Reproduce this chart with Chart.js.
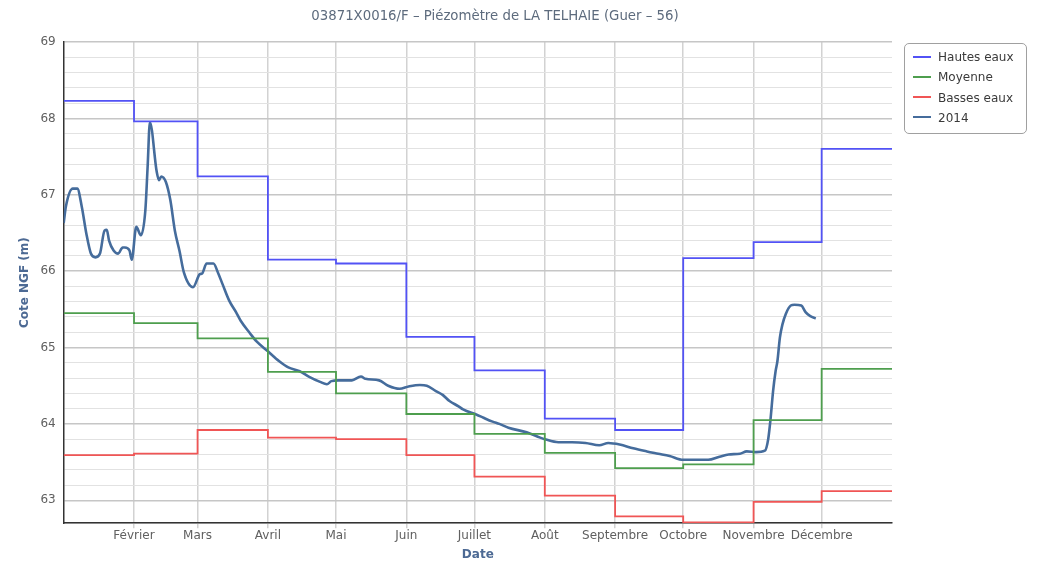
<!DOCTYPE html>
<html>
<head>
<meta charset="utf-8">
<script src="https://cdn.jsdelivr.net/npm/chart.js@4.4.1/dist/chart.umd.min.js"></script>
<style>
  html, body { margin: 0; padding: 0; background: #fff; }
  #wrap { position: relative; width: 1039px; height: 566px; font-family: "DejaVu Sans", sans-serif; }
  #chart { position: absolute; left: 0; top: 0; }
  #title { position: absolute; left: 0; width: 990px; top: 8px; text-align: center; font-size: 13.3px; color: #5d6b7d; }
  #legend { position: absolute; left: 904px; top: 43px; width: 121px; height: 89px; border: 1px solid #a0a0a0; border-radius: 5px; box-sizing: content-box; }
  #legend .item { position: absolute; left: 8px; font-size: 12px; color: #3a3a3a; white-space: nowrap; }
  #legend .item span { display: inline-block; width: 18px; height: 2px; vertical-align: middle; margin-right: 7px; position: relative; top: -1px; }
</style>
</head>
<body>
<div id="wrap">
  <canvas id="chart" width="1039" height="566"></canvas>
  <div id="title">03871X0016/F – Piézomètre de LA TELHAIE (Guer – 56)</div>
  <div id="legend"></div>
</div>
<script>
// ---------- Data (day of year, 0 = 1 Jan) ----------
const MONTH_DAYS = [0,31,59,90,120,151,181,212,243,273,304,334,365];
const TICK_DAYS = [31,59,90,120,151,181,212,243,273,304,334];
const TICK_LABELS = ['Février','Mars','Avril','Mai','Juin','Juillet','Août','Septembre','Octobre','Novembre','Décembre'];

// monthly references (Jan..Dec)
const HAUTES_EAUX = [68.23,67.96,67.24,66.15,66.10,65.14,64.70,64.07,63.92,66.17,66.38,67.60];
const MOYENNE     = [65.45,65.32,65.12,64.68,64.40,64.13,63.87,63.62,63.42,63.47,64.05,64.72];
const BASSES_EAUX = [63.59,63.61,63.92,63.82,63.80,63.59,63.31,63.06,62.79,62.71,62.98,63.12];

// 2014 levels
const DAYS_2014 = [0,1,4,6,8,10,12,14,16,18,19,20,22,24,26,27,29,30,32,34,36,37,38,41,42,43,45,47,49,51,53,57,60,61,63,66,68,70,73,76,78,82,85,90,95,99,104,108,113,116,118,121,127,131,133,139,143,148,152,157,160,164,167,170,174,176,182,185,189,192,196,204,210,212,218,224,230,236,240,245,251,257,262,267,273,280,284,289,293,298,301,305,309,310.5,311.5,312.6,313.7,314.5,315.6,316.7,318.2,320.4,322,325,327,329,331.4];
const LEVEL_2014 = [66.63,66.85,67.08,67.08,66.84,66.49,66.23,66.18,66.23,66.53,66.54,66.40,66.27,66.23,66.31,66.31,66.27,66.15,66.58,66.47,66.80,67.37,67.95,67.30,67.19,67.24,67.17,66.93,66.53,66.27,65.98,65.79,65.96,65.97,66.10,66.10,65.98,65.83,65.61,65.46,65.35,65.19,65.08,64.95,64.82,64.74,64.69,64.62,64.55,64.52,64.56,64.57,64.57,64.62,64.59,64.57,64.50,64.46,64.49,64.51,64.50,64.43,64.38,64.30,64.23,64.19,64.12,64.08,64.03,64.00,63.95,63.89,63.82,63.80,63.76,63.76,63.75,63.72,63.75,63.73,63.68,63.64,63.61,63.58,63.53,63.53,63.53,63.57,63.60,63.61,63.64,63.63,63.65,63.81,64.07,64.43,64.69,64.82,65.13,65.30,65.44,65.55,65.56,65.55,65.46,65.41,65.38];

const Y_MIN = 62.7, Y_MAX = 69;

// ---------- Helpers ----------
const monthSteps = vals => MONTH_DAYS.map((d, i) => ({ x: d, y: vals[Math.min(i, vals.length - 1)] }));
const isInt = v => Math.abs(v - Math.round(v)) < 1e-6;

const series = [
  { label: 'Hautes eaux', data: monthSteps(HAUTES_EAUX), color: '#5252f5', width: 1.8, stepped: 'before' },
  { label: 'Moyenne',     data: monthSteps(MOYENNE),     color: '#4e9e4e', width: 1.8, stepped: 'before' },
  { label: 'Basses eaux', data: monthSteps(BASSES_EAUX), color: '#f05555', width: 1.8, stepped: 'before' },
  { label: '2014', data: DAYS_2014.map((d, i) => ({ x: d, y: LEVEL_2014[i] })), color: '#456c9c', width: 2.6, stepped: false }
];

// ---------- Legend (HTML) ----------
const legendEl = document.getElementById('legend');
series.forEach((s, i) => {
  const div = document.createElement('div');
  div.className = 'item';
  div.style.top = (6 + i * 20.3) + 'px';
  div.innerHTML = `<span style="background:${s.color}"></span>${s.label}`;
  legendEl.appendChild(div);
});

// ---------- Chart ----------
const ctx = document.getElementById('chart').getContext('2d');
new Chart(ctx, {
  type: 'line',
  data: {
    datasets: series.map(s => ({
      label: s.label,
      data: s.data,
      borderColor: s.color,
      backgroundColor: s.color,
      borderWidth: s.width,
      stepped: s.stepped,
      pointRadius: 0,
      fill: false,
      cubicInterpolationMode: s.stepped ? 'default' : 'monotone'
    }))
  },
  options: {
    responsive: false,
    animation: false,
    layout: { padding: { left: 18, right: 147, top: 42, bottom: 4 } },
    plugins: { legend: { display: false }, title: { display: false }, tooltip: { enabled: false } },
    scales: {
      x: {
        type: 'linear',
        min: 0,
        max: 365,
        afterBuildTicks: axis => { axis.ticks = TICK_DAYS.map(v => ({ value: v })); },
        ticks: {
          autoSkip: false,
          maxRotation: 0,
          color: '#606060',
          font: { family: 'DejaVu Sans', size: 12 },
          padding: 0,
          callback: v => TICK_LABELS[TICK_DAYS.indexOf(v)] || ''
        },
        grid: { color: '#d2d2d2', lineWidth: 1.5, tickLength: 5 },
        border: { color: '#333', width: 1.5 },
        title: { display: true, text: 'Date', color: '#4d6a94', font: { family: 'DejaVu Sans', size: 12, weight: 'bold' }, padding: { top: 5, bottom: 0 } }
      },
      y: {
        min: Y_MIN,
        max: Y_MAX,
        ticks: {
          stepSize: 0.2,
          autoSkip: false,
          color: '#606060',
          font: { family: 'DejaVu Sans', size: 12 },
          padding: 8,
          callback: v => isInt(v) ? String(Math.round(v)) : ''
        },
        grid: {
          drawTicks: false,
          color: c => isInt(c.tick.value) ? '#c6c6c6' : '#e2e2e2',
          lineWidth: c => isInt(c.tick.value) ? 1.5 : 1
        },
        border: { color: '#333', width: 1.5 },
        title: { display: true, text: 'Cote NGF (m)', color: '#4d6a94', font: { family: 'DejaVu Sans', size: 12, weight: 'bold' }, padding: { top: 0, bottom: 0 } }
      }
    }
  }
});
</script>
</body>
</html>
